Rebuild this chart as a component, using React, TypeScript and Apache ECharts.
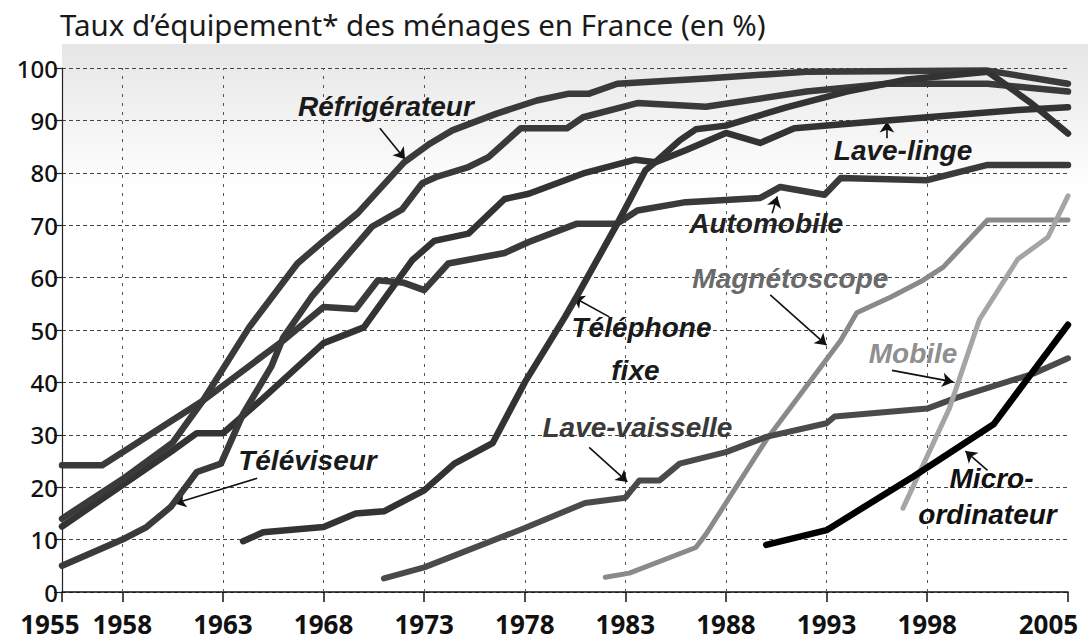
import React, { useEffect, useRef } from "react";
import * as echarts from "echarts";

// ---- Data ----
const xTickYears = [1955, 1958, 1963, 1968, 1973, 1978, 1983, 1988, 1993, 1998, 2005];
const gridYears = [1958, 1963, 1968, 1973, 1978, 1983, 1988, 1993, 1998];
// first and last tick labels sit shifted to the left of their ticks in the original
const edgeYearLabels = [
  { year: 1955, shift: -12 },
  { year: 2005, shift: -19.5 },
];

const refrigerateur = [[1955, 14], [1958, 21.5], [1960.5, 28.5], [1962, 36.5], [1964.3, 50.5], [1966.7, 62.7], [1968, 67], [1969.7, 72.3], [1972, 82], [1973.3, 85.6], [1974.4, 88.1], [1976.6, 91.3], [1978.6, 93.8], [1980.2, 95.1], [1981.2, 95.1], [1982.6, 97], [1987, 98], [1992, 99.3], [2001, 99.5], [2005, 97]];
const laveLinge = [[1955, 12.5], [1960.5, 27], [1961.7, 30.3], [1963, 30.3], [1965, 37], [1968, 47.5], [1970, 50.5], [1972.4, 63.3], [1973.5, 67], [1975.2, 68.4], [1977, 75], [1978.2, 76], [1981, 80], [1983.5, 82.5], [1984.5, 82], [1986, 84.3], [1988, 87.6], [1989.7, 85.7], [1991.4, 88.5], [1996, 90], [2002.5, 92], [2005, 92.5]];
const televiseur = [[1955, 5], [1958, 10], [1959.2, 12.4], [1960.4, 16.2], [1961.7, 22.9], [1962.9, 24.5], [1964, 34], [1965.4, 43], [1966, 48.6], [1967.4, 56.3], [1970.4, 69.7], [1971.9, 73], [1972.9, 78], [1973.6, 79.2], [1975.2, 81.1], [1976.2, 83], [1977.8, 88.5], [1980.1, 88.5], [1980.9, 90.6], [1983.6, 93.3], [1987, 92.6], [1992, 95.5], [1996, 97], [2001, 97], [2005, 95.5]];
const automobile = [[1955, 24.2], [1957, 24.2], [1962, 36.5], [1966, 48], [1968, 54.4], [1969.6, 54], [1970.7, 59.5], [1972, 59], [1973, 57.6], [1974.2, 62.7], [1977, 64.7], [1978.2, 66.8], [1980.6, 70.3], [1982.6, 70.3], [1983.6, 72.8], [1986, 74.4], [1989.7, 75.2], [1990.7, 77.3], [1992.9, 75.8], [1993.7, 79], [1998, 78.6], [2001, 81.5], [2005, 81.5]];
const telephoneFixe = [[1964, 9.7], [1965, 11.4], [1968, 12.4], [1969.6, 15], [1971, 15.4], [1973, 19.4], [1974.5, 24.5], [1976.4, 28.4], [1978, 40], [1980, 52.5], [1980.6, 56.5], [1982.6, 70.3], [1984, 80.5], [1984.6, 82.4], [1985.7, 86.2], [1986.5, 88.3], [1988, 89], [1991, 92.5], [1994, 95.5], [1997, 97.8], [2001, 99.3], [2003.1, 93.5], [2005, 87.5]];
const laveVaisselle = [[1971, 2.6], [1973, 4.7], [1978, 12.2], [1981, 17], [1983, 18], [1983.7, 21.3], [1984.7, 21.3], [1985.7, 24.5], [1988, 26.7], [1990, 29.6], [1993, 32.2], [1993.4, 33.5], [1998, 35], [1999.4, 37], [2003.3, 41.7], [2005, 44.6]];
const magnetoscope = [[1982, 2.8], [1983.2, 3.6], [1986.5, 8.5], [1987, 11], [1990, 29], [1993.7, 48], [1994.5, 53.3], [1996.2, 56.3], [1997.8, 59.5], [1998.8, 62], [2001, 71], [2005, 71]];
const mobile = [[1996.8, 16], [1999.1, 35], [2000.6, 52], [2002.5, 63.5], [2004, 67.7], [2005, 75.6]];
const microOrdinateur = [[1990, 9], [1993, 11.8], [1997.3, 22], [2001.3, 32], [2003.3, 42.3], [2005, 51]];

// annotation arrows [from, to] in data space
const arrows = [
  [[1970.8, 88.5], [1972.05, 82.6]],
  [[1996.0, 86.6], [1996.0, 89.8]],
  [[1990.3, 72.3], [1990.55, 75.5]],
  [[1990.2, 56.7], [1993.0, 47.1]],
  [[1996.25, 42.3], [1999.3, 40.1]],
  [[2001.0, 23.2], [1999.9, 26.9]],
  [[1982.2, 52.5], [1980.4, 56.3]],
  [[1981.2, 27.6], [1983.1, 21.0]],
  [[1964.7, 21.7], [1960.6, 16.9]],
];

// labels: text, position (data space), colour
const labels = [
  { text: "Réfrigérateur", pos: [1971.1, 92.7], color: "#1a1a1a" },
  { text: "Lave-linge", pos: [1996.8, 84.3], color: "#1a1a1a" },
  { text: "Automobile", pos: [1990.0, 70.4], color: "#222" },
  { text: "Magnétoscope", pos: [1991.2, 59.9], color: "#6a6a6a" },
  { text: "Mobile", pos: [1997.3, 45.6], color: "#8f8f8f" },
  { text: "Micro-", pos: [2001.2, 21.7], color: "#111" },
  { text: "ordinateur", pos: [2001.0, 14.7], color: "#111" },
  { text: "Téléphone", pos: [1983.8, 50.5], color: "#1a1a1a" },
  { text: "fixe", pos: [1983.5, 42.3], color: "#1a1a1a" },
  { text: "Lave-vaisselle", pos: [1983.6, 31.3], color: "#3a3a3a" },
  { text: "Téléviseur", pos: [1967.2, 25.1], color: "#1a1a1a" },
];

const seriesDefs = [
  { name: "Magnétoscope", data: magnetoscope, color: "#8a8a8a", width: 5 },
  { name: "Lave-vaisselle", data: laveVaisselle, color: "#4a4a4a", width: 6 },
  { name: "Automobile", data: automobile, color: "#3a3a3a", width: 6.5 },
  { name: "Lave-linge", data: laveLinge, color: "#333", width: 6.5 },
  { name: "Téléviseur", data: televiseur, color: "#3a3a3a", width: 6.5 },
  { name: "Réfrigérateur", data: refrigerateur, color: "#3a3a3a", width: 6.5 },
  { name: "Téléphone fixe", data: telephoneFixe, color: "#333", width: 6.5 },
  { name: "Mobile", data: mobile, color: "#a5a5a5", width: 5 },
  { name: "Micro-ordinateur", data: microOrdinateur, color: "#000", width: 6.5 },
];

const labelFont = '"Liberation Sans", Arial, sans-serif';
const axisFont = '"Noto Sans", "Open Sans", sans-serif';

export default function App() {
  const ref = useRef<HTMLDivElement>(null);
  useEffect(() => {
    document.body.style.margin = "0";
    const chart = echarts.init(ref.current!, null, { renderer: "svg" });
    const series: any[] = seriesDefs.map((s, i) => ({
      type: "line",
      name: s.name,
      data: s.data,
      symbol: "none",
      silent: true,
      z: 3 + i,
      lineStyle: { color: s.color, width: s.width, cap: "round", join: "round" },
    }));
    series[0].markLine = {
      silent: true,
      symbol: "none",
      label: { show: false },
      z: 1,
      lineStyle: { type: [3, 6], color: "#555", width: 1 },
      data: gridYears.map((y) => ({ xAxis: y })),
    };
    series[1].markLine = {
      silent: true,
      symbol: ["none", "arrow"],
      symbolSize: 11,
      label: { show: false },
      lineStyle: { type: "solid", color: "#111", width: 1.6 },
      data: arrows.map(([a, b]) => [{ coord: a }, { coord: b }]),
    };
    const edgeYears = edgeYearLabels.map((e) => e.year);
    chart.setOption({
      animation: false,
      backgroundColor: "#fff",
      grid: { left: 62, right: 20, top: 68, bottom: 50, containLabel: false, outerBoundsMode: "none" },
      xAxis: {
        type: "value",
        min: 1955,
        max: 2005,
        axisLine: { show: true, onZero: false, lineStyle: { color: "#111", width: 1.5 } },
        axisTick: { show: true, customValues: xTickYears, length: 10, lineStyle: { color: "#111", width: 1.5 } },
        splitLine: { show: false },
        axisLabel: {
          customValues: xTickYears.filter((y) => !edgeYears.includes(y)),
          formatter: (v: number) => String(v),
          margin: 19,
          lineHeight: 26,
          color: "#111",
          fontSize: 26,
          fontWeight: "bold",
          fontFamily: axisFont,
        },
      },
      yAxis: {
        type: "value",
        min: 0,
        max: 100,
        interval: 10,
        axisLine: { show: true, lineStyle: { color: "#222", width: 1.2 } },
        axisTick: { show: true, length: 8, lineStyle: { color: "#222", width: 1.2 } },
        splitLine: { show: true, lineStyle: { type: [4, 3], color: "#444", width: 1 } },
        axisLabel: { margin: 4, lineHeight: 20, color: "#111", fontSize: 24, fontFamily: axisFont, fontWeight: 500 },
      },
      series,
    });
    const px = (p: number[]) => chart.convertToPixel({ gridIndex: 0 }, p) as number[];
    const graphic: any[] = [
      {
        type: "rect",
        z: -10,
        silent: true,
        shape: { x: 62, y: 44, width: 1026, height: 150 },
        style: {
          fill: new echarts.graphic.LinearGradient(0, 0, 0, 1, [
            { offset: 0, color: "rgba(0,0,0,0.10)" },
            { offset: 1, color: "rgba(0,0,0,0)" },
          ]),
        },
      },
      {
        type: "text",
        left: 60,
        top: 9,
        silent: true,
        style: {
          text: "Taux d’équipement* des ménages en France (en %)",
          fontSize: 29.5,
          fontFamily: axisFont,
          fill: "#1a1a1a",
        },
      },
    ];
    edgeYearLabels.forEach((e) => {
      const [x, y] = px([e.year, 0]);
      graphic.push({
        type: "text",
        x: x + e.shift,
        y: y + 19,
        silent: true,
        style: {
          text: String(e.year),
          fontSize: 26,
          lineHeight: 26,
          fontWeight: "bold",
          fontFamily: axisFont,
          fill: "#111",
          align: "center",
          verticalAlign: "top",
        },
      });
    });
    labels.forEach((l) => {
      const [x, y] = px(l.pos);
      graphic.push({
        type: "text",
        x,
        y,
        z: 100,
        silent: true,
        style: {
          text: l.text,
          fontSize: 28,
          fontWeight: "bold",
          fontStyle: "italic",
          fontFamily: labelFont,
          fill: l.color,
          align: "center",
          verticalAlign: "middle",
        },
      });
    });
    chart.setOption({ graphic });
    return () => chart.dispose();
  }, []);
  return <div ref={ref} style={{ width: 1088, height: 642 }} />;
}
